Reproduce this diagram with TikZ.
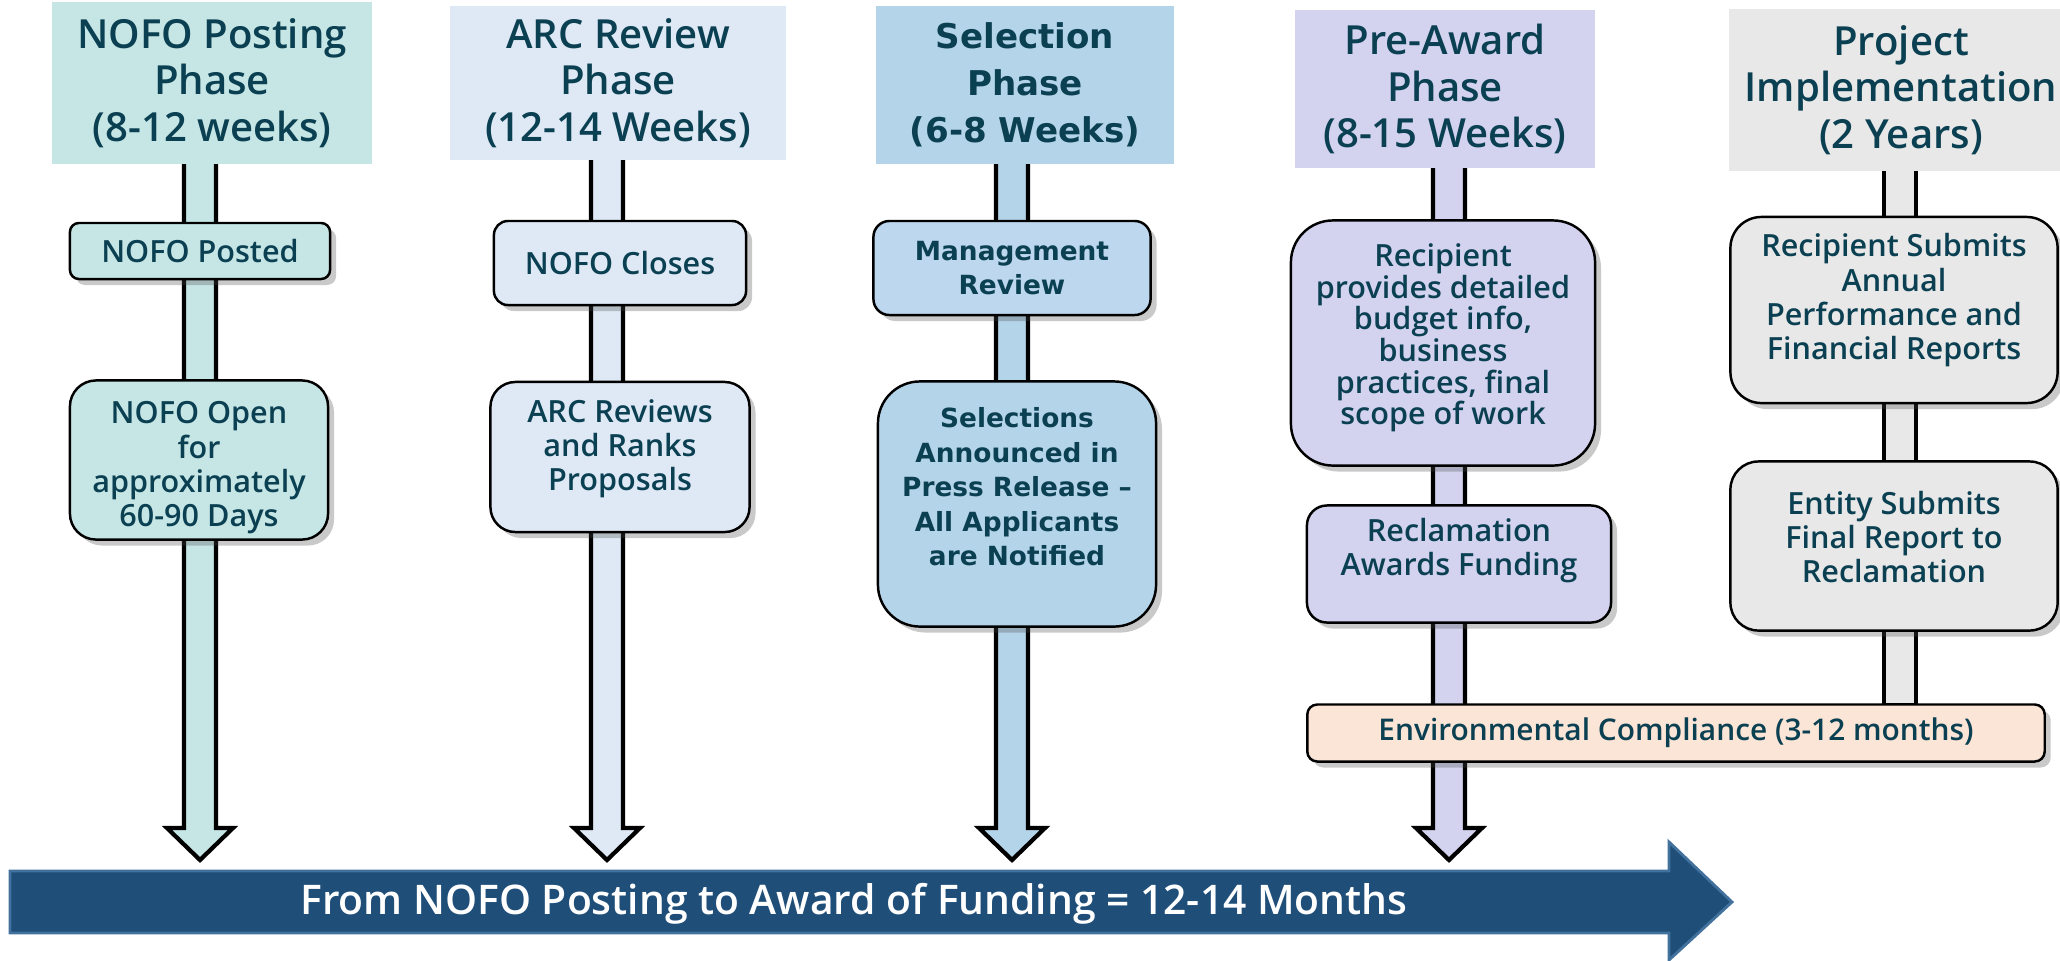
\documentclass[tikz,border=0pt]{standalone}
\usepackage{fontspec}
\IfFontExistsTF{Open Sans SemiBold}{%
  \setmainfont{Open Sans}[BoldFont={Open Sans SemiBold}]}{%
  \IfFontExistsTF{Open Sans Semibold}{%
    \setmainfont{Open Sans}[BoldFont={Open Sans Semibold}]}{%
    \setmainfont{Open Sans}}}
\newfontfamily\widefont{DejaVu Sans}
\usetikzlibrary{positioning,calc,shadows,backgrounds}

\definecolor{inkteal}{HTML}{0B4052}
\definecolor{colA}{HTML}{C6E6E6}
\definecolor{colB}{HTML}{DEE9F5}
\definecolor{colC}{HTML}{B4D4E9}
\definecolor{colCbox}{HTML}{BDD7EE}
\definecolor{colD}{HTML}{D3D3F0}
\definecolor{colE}{HTML}{E8E8E8}
\definecolor{envfill}{HTML}{FBE5D6}
\definecolor{bannerblue}{HTML}{1F4E79}
\definecolor{bannerline}{HTML}{41719C}

\begin{document}
\begin{tikzpicture}[
    x=0.01cm, y=-0.01cm,
    phase/.style={rectangle, inner sep=0pt, align=center, text=inkteal, font=\bfseries\fontsize{11.4}{13.3}\selectfont},
    phasewide/.style={phase, font=\widefont\bfseries\fontsize{9.7}{13.4}\selectfont},
    box/.style={rectangle, draw=black, line width=0.7pt, inner sep=0pt, align=center, text=inkteal, font=\bfseries\fontsize{8.7}{9.7}\selectfont, drop shadow={shadow xshift=0.06cm, shadow yshift=-0.06cm, fill=black!70, opacity=0.3}},
    boxwide/.style={box, font=\widefont\bfseries\fontsize{7.5}{9.8}\selectfont},
    shaft/.style={draw=black, line width=1.2pt, line join=miter},
    banner/.style={fill=bannerblue, draw=bannerline, line width=0.8pt},
    bannertext/.style={inner sep=0pt, text=white, font=\bfseries\fontsize{11.6}{13}\selectfont}
]
\useasboundingbox (0,0) rectangle (2060,960);

% Column A: NOFO posting
\node[phase, fill=colA, minimum width=3.19cm, minimum height=1.62cm] (hdrA) at (212,83) {NOFO Posting\\Phase\\(8-12 weeks)};
\node[box, fill=colA, rounded corners=0.09cm, minimum width=2.60cm, minimum height=0.56cm] (posted) at (200,251) {NOFO Posted};
\node[box, fill=colA, rounded corners=0.26cm, minimum width=2.58cm, minimum height=1.59cm] (open) at (199,460) {\mbox{}\\[1pt]NOFO Open\\for\\approximately\\60-90 Days};
\coordinate (tipA) at (200,860);

% Column B: ARC review
\node[phase, fill=colB, minimum width=3.35cm, minimum height=1.53cm] (hdrB) at (618,83) {ARC Review\\Phase\\(12-14 Weeks)};
\node[box, fill=colB, rounded corners=0.14cm, minimum width=2.52cm, minimum height=0.84cm] (closes) at (620,263) {NOFO Closes};
\node[box, fill=colB, rounded corners=0.25cm, minimum width=2.59cm, minimum height=1.50cm] (ranks) at (620,457) {ARC Reviews\\and Ranks\\Proposals\\[-3pt]\mbox{}};
\coordinate (tipB) at (607,860);

% Column C: selection
\node[phasewide, fill=colC, minimum width=2.97cm, minimum height=1.57cm] (hdrC) at (1025,85) {Selection\\Phase\\(6-8 Weeks)};
\node[boxwide, fill=colCbox, rounded corners=0.16cm, minimum width=2.77cm, minimum height=0.94cm] (mgmt) at (1012,268) {Management\\Review};
\node[boxwide, fill=colC, rounded corners=0.42cm, minimum width=2.78cm, minimum height=2.45cm] (announce) at (1017,504) {Selections\\Announced in\\Press Release –\\All Applicants\\are Notified\\\mbox{}};
\coordinate (tipC) at (1012,860);

% Column D: pre-award
\node[phase, fill=colD, minimum width=2.99cm, minimum height=1.58cm] (hdrD) at (1445,89) {Pre-Award\\Phase\\(8-15 Weeks)};
\node[box, fill=colD, rounded corners=0.42cm, minimum width=3.04cm, minimum height=2.45cm, font=\bfseries\fontsize{8.7}{9}\selectfont] (budget) at (1443,343) {Recipient\\provides detailed\\budget info,\\business\\practices, final\\scope of work\\[-4pt]\mbox{}};
\node[box, fill=colD, rounded corners=0.20cm, minimum width=3.04cm, minimum height=1.17cm] (awards) at (1459,564) {Reclamation\\Awards Funding\\\mbox{}};
\coordinate (tipD) at (1449,860);

% Column E: project implementation
\node[phase, fill=colE, minimum width=3.44cm, minimum height=1.61cm] (hdrE) at (1901,90) {Project\\Implementation\\(2 Years)};
\node[box, fill=colE, rounded corners=0.31cm, minimum width=3.27cm, minimum height=1.86cm] (annual) at (1894,310) {Recipient Submits\\Annual\\Performance and\\Financial Reports\\[-2pt]\mbox{}};
\node[box, fill=colE, rounded corners=0.28cm, minimum width=3.27cm, minimum height=1.69cm] (final) at (1894,546) {Entity Submits\\Final Report to\\Reclamation\\[-4.5pt]\mbox{}};
\coordinate (endE) at (1900,705);

% Environmental compliance spans D and E
\node[box, fill=envfill, rounded corners=0.10cm, minimum width=7.37cm, minimum height=0.57cm, font=\bfseries\fontsize{8.5}{9.7}\selectfont] (env) at (1676,733) {Environmental Compliance (3-12 months)};

% ------------------ Block arrows behind the boxes ------------------
\begin{scope}[on background layer]
\draw[shaft, fill=colA] ($(hdrA.south -| tipA)+(-16,-2)$) -- ($(tipA)+(-16,-32)$) -- ($(tipA)+(-33,-32)$) -- (tipA) -- ($(tipA)+(33,-32)$) -- ($(tipA)+(16,-32)$) -- ($(hdrA.south -| tipA)+(16,-2)$);
\draw[shaft, fill=colB] ($(hdrB.south -| tipB)+(-16,-2)$) -- ($(tipB)+(-16,-32)$) -- ($(tipB)+(-33,-32)$) -- (tipB) -- ($(tipB)+(33,-32)$) -- ($(tipB)+(16,-32)$) -- ($(hdrB.south -| tipB)+(16,-2)$);
\draw[shaft, fill=colC] ($(hdrC.south -| tipC)+(-16,-2)$) -- ($(tipC)+(-16,-32)$) -- ($(tipC)+(-33,-32)$) -- (tipC) -- ($(tipC)+(33,-32)$) -- ($(tipC)+(16,-32)$) -- ($(hdrC.south -| tipC)+(16,-2)$);
\draw[shaft, fill=colD] ($(hdrD.south -| tipD)+(-16,-2)$) -- ($(tipD)+(-16,-32)$) -- ($(tipD)+(-33,-32)$) -- (tipD) -- ($(tipD)+(33,-32)$) -- ($(tipD)+(16,-32)$) -- ($(hdrD.south -| tipD)+(16,-2)$);
\draw[shaft, fill=colE] ($(hdrE.south -| endE)+(-16,-2)$) -- ($(endE)+(-16,0)$) -- ($(endE)+(16,0)$) -- ($(hdrE.south -| endE)+(16,-2)$);
\end{scope}

% ------------------ Timeline banner ------------------
\coordinate (bannerStart) at (10,902);
\coordinate (bannerTip) at (1732,902);
\draw[banner] ($(bannerStart)+(0,-31)$) -- ($(bannerTip)+(-63,-31)$) -- ($(bannerTip)+(-63,-60)$) -- (bannerTip) -- ($(bannerTip)+(-63,58)$) -- ($(bannerTip)+(-63,31)$) -- ($(bannerStart)+(0,31)$) -- cycle;
\node[bannertext] (bannerText) at (854,904) {From NOFO Posting to Award of Funding = 12-14 Months};

\end{tikzpicture}
\end{document}
